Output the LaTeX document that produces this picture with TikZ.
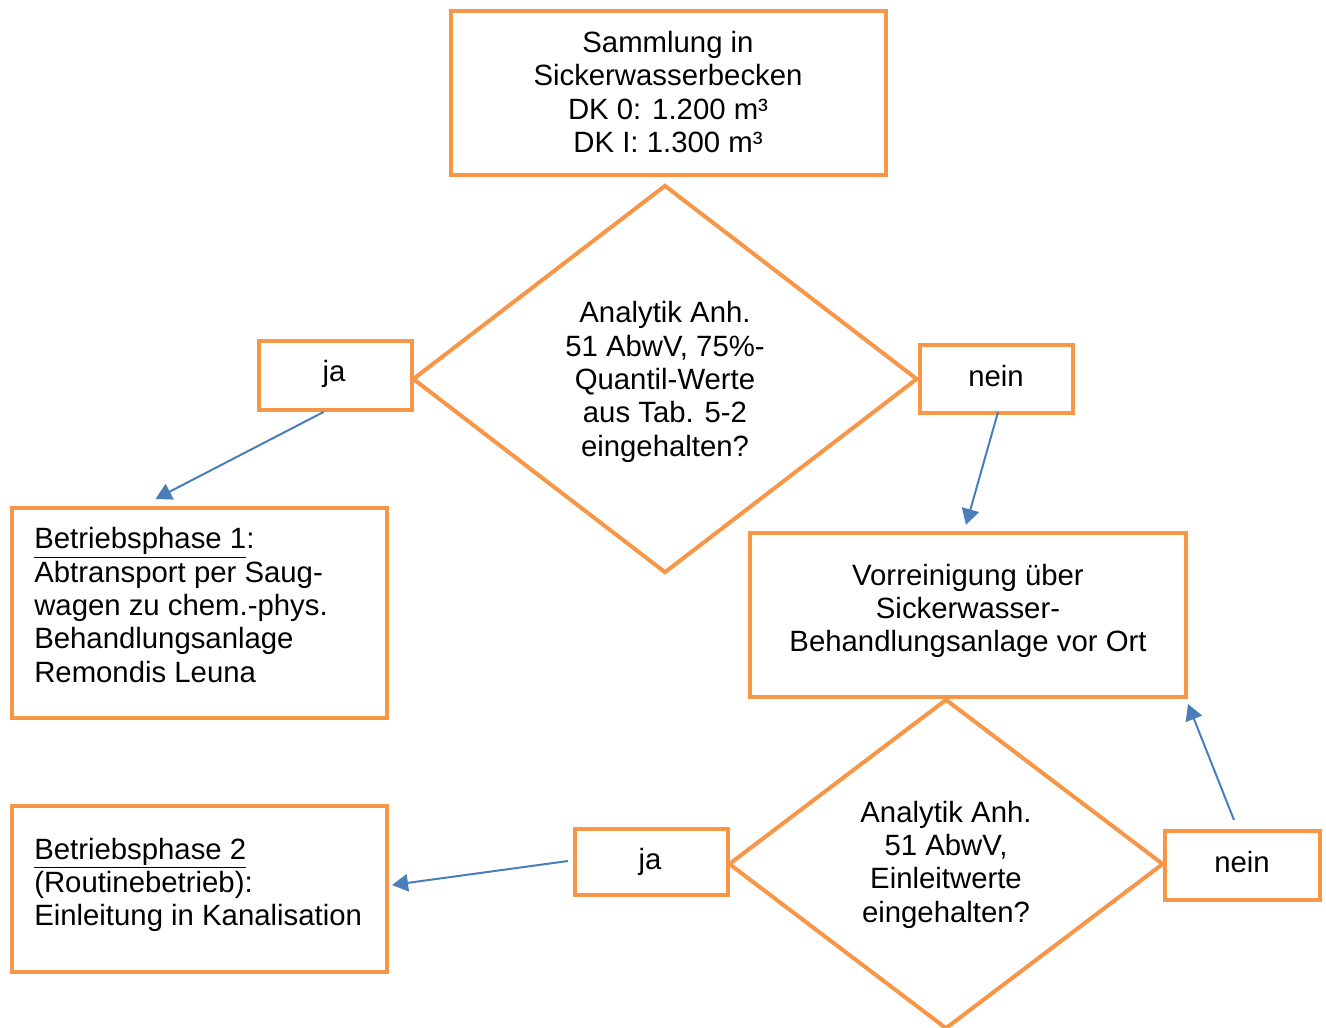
\documentclass[tikz,border=0pt]{standalone}
\usepackage{fontspec}
\setmainfont{Liberation Sans}
\usetikzlibrary{shapes.geometric,arrows.meta,calc}
\definecolor{orng}{HTML}{F79646}
\definecolor{blu}{HTML}{4A7EBB}
\newdimen\px \px=0.75pt
\begin{document}
\begin{tikzpicture}[x=0.75pt,y=-0.75pt,
  box/.style={draw=orng,line width=3pt,rectangle,inner sep=0pt},
  dia/.style={draw=orng,line width=3pt,diamond,inner sep=0pt},
  txt/.style={font=\fontsize{22}{25}\selectfont,align=center,inner sep=0pt},
  ltxt/.style={font=\fontsize{22}{25}\selectfont,align=left,inner sep=0pt,anchor=west},
  arr/.style={draw=blu,line width=1.5pt,-{Triangle[width=13pt,length=12pt]}}]
\useasboundingbox[fill=white] (0,0) rectangle (1326,1027);
% boxes
\node[box,minimum width=435\px,minimum height=164\px] (top) at (668.5,93) {};
\node[dia,minimum width=505\px,minimum height=388\px] (dia1) at (665,379) {};
\node[box,minimum width=153\px,minimum height=69\px] (ja1) at (335.5,375.5) {};
\node[box,minimum width=153\px,minimum height=68\px] (nein1) at (996.5,379) {};
\node[box,minimum width=375\px,minimum height=210\px] (bp1) at (199.5,613) {};
\node[box,minimum width=436\px,minimum height=164\px] (vor) at (968,615) {};
\node[dia,minimum width=435\px,minimum height=330\px] (dia2) at (946,864) {};
\node[box,minimum width=153\px,minimum height=66\px] (ja2) at (651.5,862) {};
\node[box,minimum width=155\px,minimum height=69\px] (nein2) at (1242.5,865.5) {};
\node[box,minimum width=375\px,minimum height=166\px] (bp2) at (199.5,889) {};
% texts
\node[txt] (ttop) at (668,92) {Sammlung in\\Sickerwasserbecken\\DK 0: 1.200 m³\\DK I: 1.300 m³};
\node[txt] (tdia1) at (665,382) {Analytik Anh.\\51 AbwV, 75\%-\\Quantil-Werte\\aus Tab. 5-2\\eingehalten?};
\node[txt] (tja1) at (334,374) {ja};
\node[txt] (tnein1) at (996,376) {nein};
\node[ltxt] (tbp1) at (34,605) {\underline{Betriebsphase 1}:\\Abtransport per Saug-\\wagen zu chem.-phys.\\Behandlungsanlage\\Remondis Leuna};
\node[txt] (tvor) at (968,611) {Vorreinigung über\\Sickerwasser-\\Behandlungsanlage vor Ort};
\node[txt] (tdia2) at (946,864.5) {Analytik Anh.\\51 AbwV,\\Einleitwerte\\eingehalten?};
\node[txt] (tja2) at (650,862) {ja};
\node[txt] (tnein2) at (1242,862) {nein};
\node[ltxt] (tbp2) at (34,885) {\underline{Betriebsphase 2}\\(Routinebetrieb):\\Einleitung in Kanalisation};
% arrows
\draw[arr] ($(ja1.south)+(-12,0)$) -- ($(bp1.north)+(-44,-7)$);
\draw[arr] ($(nein1.south)+(1.5,-3)$) -- ($(vor.north)+(-2,-6)$);
\draw[arr] ($(nein2.north)+(-8.5,-9)$) -- ($(vor.south east)+(0,5)$);
\draw[arr] ($(ja2.west)+(-5,-1)$) -- ($(bp2.east)+(3,-4)$);
\end{tikzpicture}
\end{document}
